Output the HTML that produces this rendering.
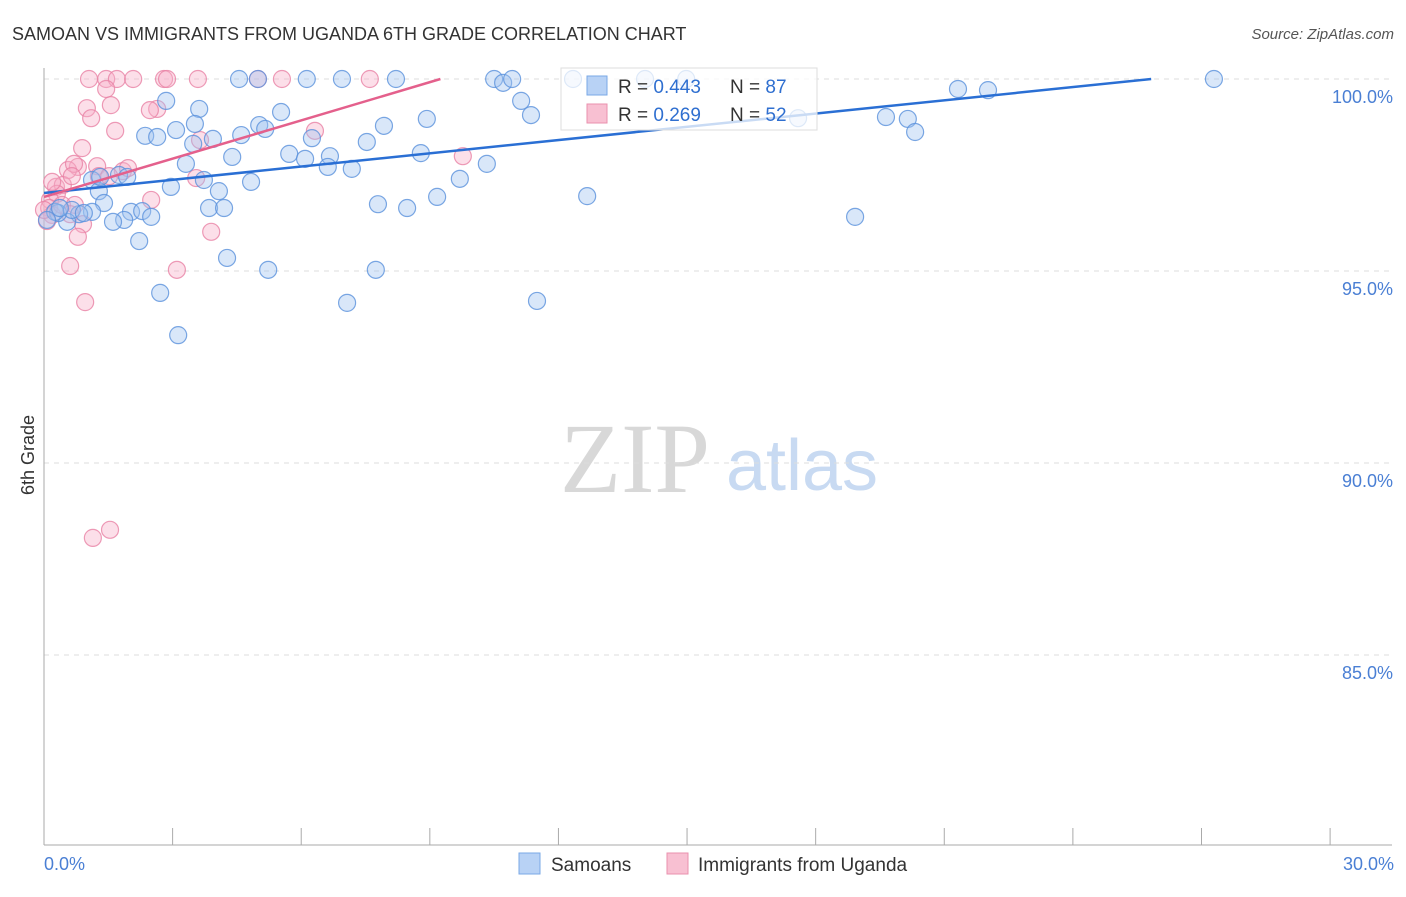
<!DOCTYPE html>
<html><head><meta charset="utf-8"><style>
body{margin:0;background:#fff;font-family:"Liberation Sans",sans-serif}
svg text{font-family:"Liberation Sans",sans-serif}
</style></head><body>
<svg id="c" width="1406" height="892" viewBox="0 0 1406 892" xmlns="http://www.w3.org/2000/svg">
<text x="12" y="40" font-size="18" fill="#333">SAMOAN VS IMMIGRANTS FROM UGANDA 6TH GRADE CORRELATION CHART</text>
<text x="1394" y="39" font-size="15" fill="#555" font-style="italic" text-anchor="end">Source: ZipAtlas.com</text>
<g>
<text x="635" y="492" font-size="100" fill="#d8d8d8" style="font-family:'Liberation Serif',serif" text-anchor="middle">ZIP</text>
<text x="802" y="490" font-size="72" fill="#c8daf2" text-anchor="middle">atlas</text>
</g>
<g id="grid"></g>
<g id="axes"></g>
<g id="pts"></g>
<g id="lines"></g>
<text transform="translate(34,455) rotate(-90)" font-size="18" fill="#333" text-anchor="middle">6th Grade</text>
<g>
<rect x="561" y="68" width="256" height="62" fill="rgba(255,255,255,0.75)" stroke="#ddd"/>
<rect x="587" y="76" width="20" height="19" fill="#b8d2f5" stroke="#7aa8e6"/>
<rect x="587" y="104" width="20" height="19" fill="#f8c0d2" stroke="#ea90ae"/>
<text x="618" y="93" font-size="19" fill="#333">R = <tspan fill="#2f6fd0">0.443</tspan><tspan x="730">N = </tspan><tspan fill="#2f6fd0">87</tspan></text>
<text x="618" y="121" font-size="19" fill="#333">R = <tspan fill="#2f6fd0">0.269</tspan><tspan x="730">N = </tspan><tspan fill="#2f6fd0">52</tspan></text>
</g>
<g>
<rect x="519" y="853" width="21" height="21" fill="#b8d2f5" stroke="#7aa8e6"/>
<text x="551" y="871" font-size="19" fill="#333">Samoans</text>
<rect x="667" y="853" width="21" height="21" fill="#f8c0d2" stroke="#ea90ae"/>
<text x="698" y="871" font-size="19" fill="#333">Immigrants from Uganda</text>
</g>
</svg>
<script>
const yTicks=[100,95,90,85];
const yTickLabels=["100.0%","95.0%","90.0%","85.0%"];
const xTickLabels=["0.0%","30.0%"];
const blueX=[4.55,4.99,6.13,6.95,8.21,10.50,10.71,10.92,12.34,14.02,14.98,21.32,22.02,27.29,2.85,3.62,5.53,11.13,11.36,7.93,8.93,2.36,2.64,3.08,3.52,3.94,4.60,5.02,5.16,6.25,7.53,3.48,4.39,5.72,6.09,6.67,6.62,7.18,8.79,10.33,3.31,2.96,4.08,4.83,3.73,9.70,9.17,7.79,8.47,12.67,3.85,4.20,1.12,1.28,1.40,1.75,1.94,2.03,2.29,2.50,1.87,1.61,2.22,1.12,0.82,0.54,0.33,0.26,0.65,4.27,5.23,7.74,2.71,3.13,7.07,11.50,18.92,19.64,20.15,20.32,17.59,0.37,0.07,0.93,1.31];
const blueY=[100,100,100,100,100,100,99.90,100,100,100,100,99.74,99.71,100,99.43,99.22,99.14,99.43,99.06,98.78,98.96,98.52,98.49,98.67,98.83,98.44,98.54,98.80,98.70,98.46,98.36,98.31,97.97,98.05,97.92,97.99,97.71,97.66,98.07,97.79,97.79,97.19,97.08,97.32,97.37,97.40,96.93,96.74,96.64,96.95,96.64,96.64,97.37,97.08,96.77,97.50,97.45,96.54,96.56,96.41,96.33,96.28,95.78,96.54,96.48,96.28,96.51,96.54,96.59,95.34,95.03,95.03,94.43,93.33,94.17,94.22,96.41,99.01,98.96,98.62,98.98,96.64,96.33,96.51,97.45];
const pinkX=[1.05,1.45,1.70,2.08,2.80,2.87,3.59,4.99,5.55,7.60,1.45,1.56,1.00,1.10,2.64,2.47,1.66,0.89,0.79,0.56,0.70,0.28,0.44,1.24,1.84,1.96,1.28,1.52,0.65,0.30,0.14,0.19,0.12,0.19,0.42,0.72,0.07,0,0.61,0.91,0.79,2.50,0.61,3.10,0.96,3.90,3.55,6.32,9.77,1.14,1.54,3.64];
const pinkY=[100,100,100,100,100,100,100,100,100,100,99.74,99.32,99.24,98.98,99.22,99.19,98.65,98.20,97.71,97.63,97.79,97.19,97.24,97.73,97.60,97.68,97.47,97.47,97.47,97.01,96.85,97.32,96.64,96.46,96.72,96.72,96.30,96.59,96.48,96.22,95.89,96.85,95.13,95.03,94.19,96.02,97.42,98.65,97.99,88.05,88.26,98.41];
const blueFit=[97.03,0.115];
const pinkFit=[96.93,0.332];
const X=v=>44+v*42.87, Y=v=>79+(100-v)*38.4;
const NS="http://www.w3.org/2000/svg";
function mk(p,t,a){const e=document.createElementNS(NS,t);for(const k in a)e.setAttribute(k,a[k]);p.appendChild(e);return e;}
const grid=document.getElementById('grid'),axes=document.getElementById('axes'),pts=document.getElementById('pts'),lines=document.getElementById('lines');
yTicks.forEach((t,i)=>{
 const l=mk(grid,'line',{x1:44,x2:1392,y1:Y(t),y2:Y(t),stroke:'#ddd','stroke-dasharray':'5,5'});
 
 
 const tx=mk(axes,'text',{x:1393,y:Y(t)+24,'font-size':18,fill:'#4a7fd4','text-anchor':'end'});
 tx.textContent=yTickLabels[i];
 
 
});
const ya=mk(axes,'line',{x1:44,x2:44,y1:68,y2:845,stroke:'#aaa'});


const xa=mk(axes,'line',{x1:44,x2:1392,y1:845,y2:845,stroke:'#aaa'});


for(let i=0;i<=10;i++){const t=mk(axes,'line',{x1:X(i*3),x2:X(i*3),y1:828,y2:845,stroke:'#aaa'});
 
 }
[[0,'start',44],[30,'end',1394]].forEach((d,i)=>{const t=mk(axes,'text',{x:d[2],y:870,'font-size':18,fill:'#4a7fd4','text-anchor':d[1]});t.textContent=xTickLabels[i];
 
 });
function dots(xs,ys,fill,stroke,name){xs.forEach((x,i)=>{const c=mk(pts,'circle',{cx:X(x),cy:Y(ys[i]),r:8.5,fill:fill,stroke:stroke,'stroke-width':1.2});
 
 });}
dots(pinkX,pinkY,'rgba(248,176,200,0.4)','rgba(232,130,165,0.8)','uganda-point');
dots(blueX,blueY,'rgba(160,196,240,0.4)','rgba(90,145,220,0.8)','samoan-point');
function fit(f,col,name){const x2=Math.min(30,(100-f[0])/f[1]);const l=mk(lines,'line',{x1:X(0),y1:Y(f[0]),x2:X(x2),y2:Y(f[0]+f[1]*x2),stroke:col,'stroke-width':2.5});
 
 }
fit(blueFit,'#2a6fd4','samoan-trendline');
fit(pinkFit,'#e4608c','uganda-trendline');
</script>
</body></html>
